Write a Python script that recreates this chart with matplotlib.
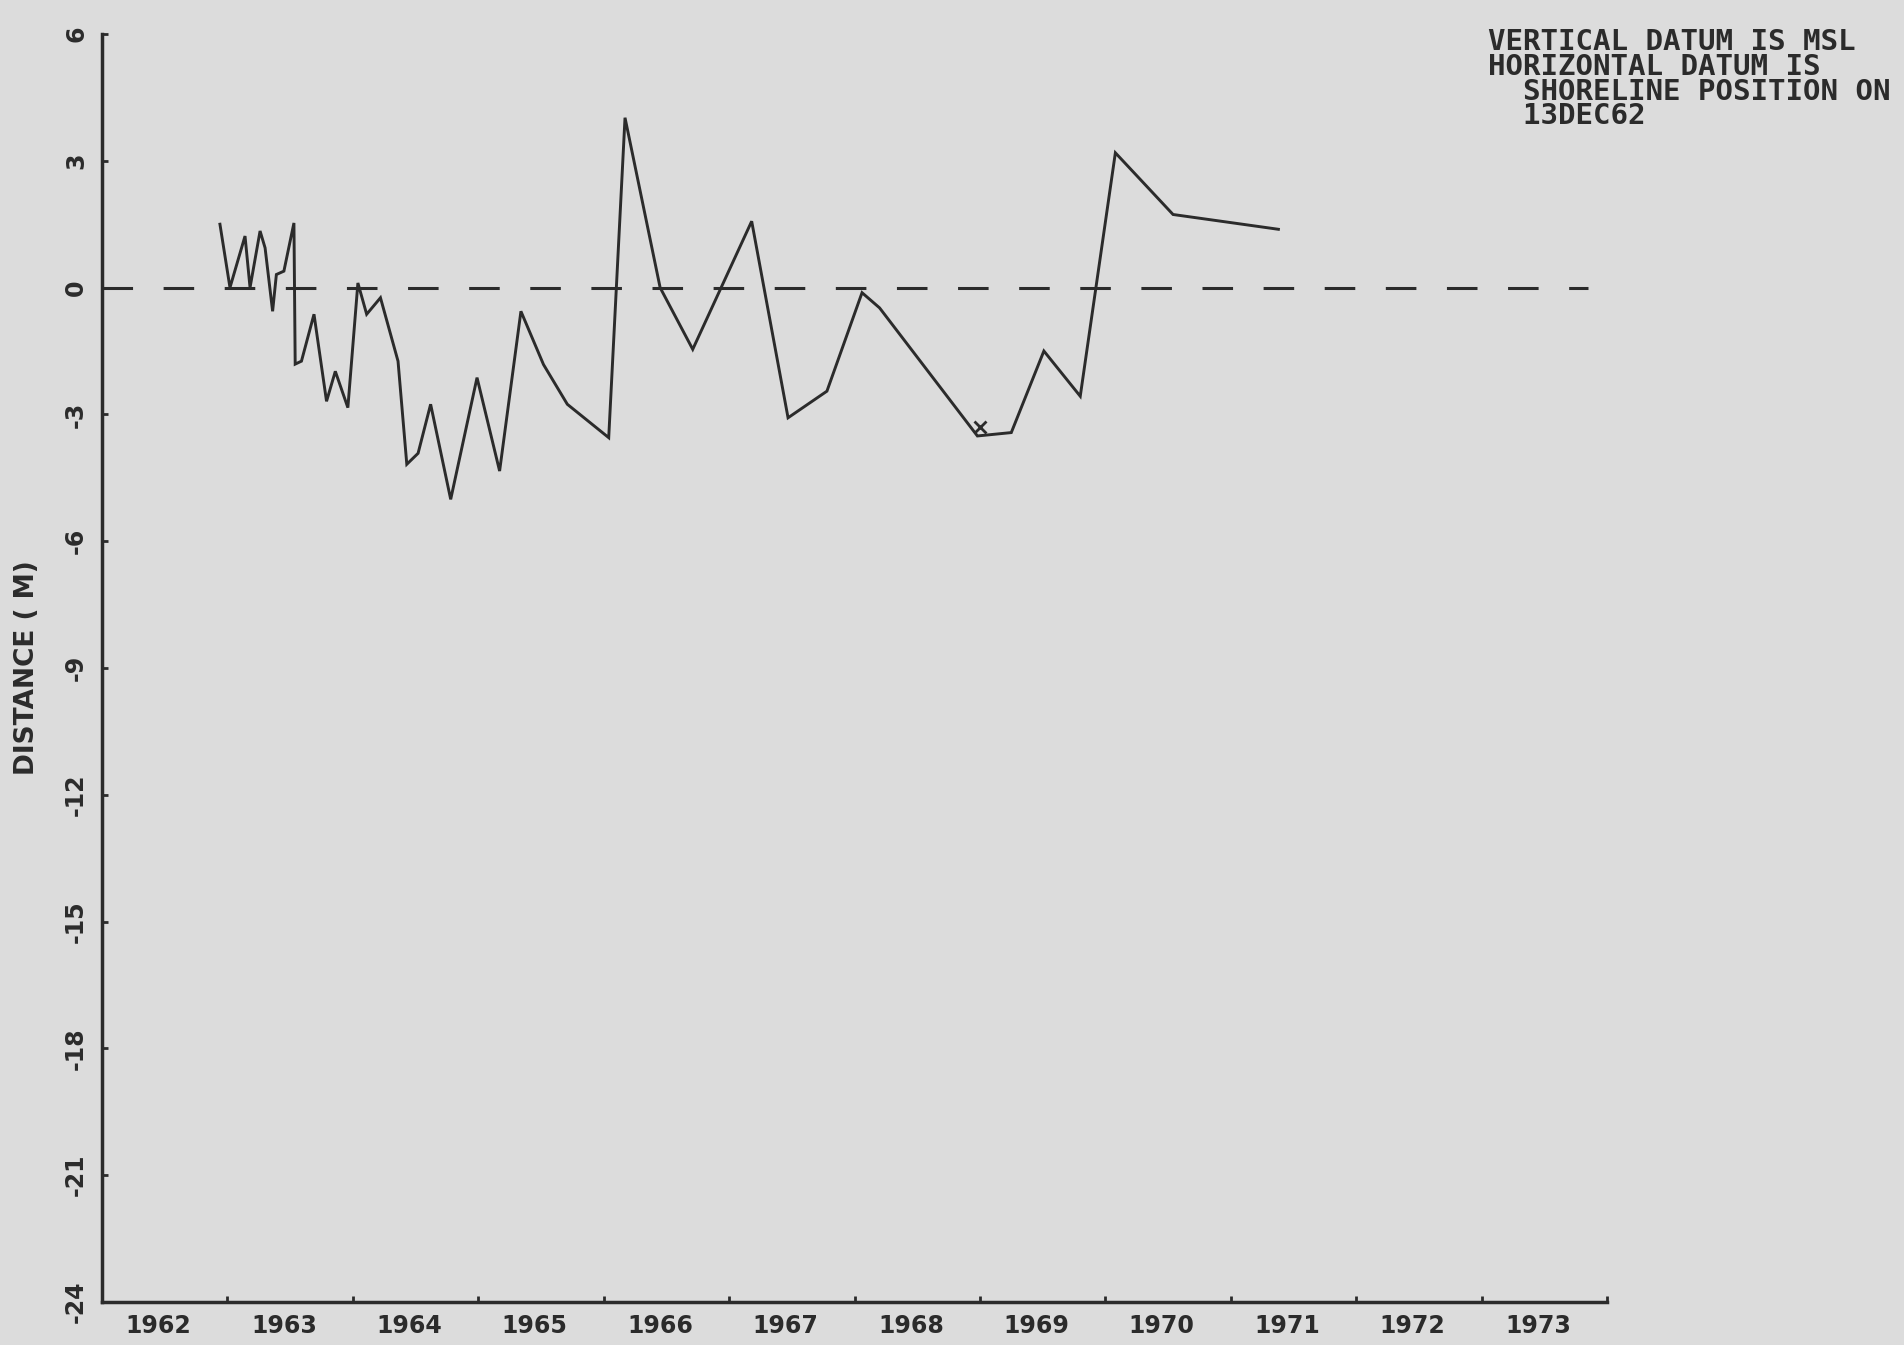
import numpy as np
import matplotlib.pyplot as plt

plt.rcParams['font.family'] = ['DejaVu Sans']
plt.rcParams['axes.unicode_minus'] = False

# shoreline position relative to 13 Dec 1962 (m)
dates = [1962.94, 1963.02, 1963.14, 1963.18, 1963.26, 1963.30, 1963.36, 1963.39,
         1963.45, 1963.53, 1963.54, 1963.59, 1963.69, 1963.79, 1963.86, 1963.96,
         1964.04, 1964.11, 1964.22, 1964.36, 1964.43, 1964.52, 1964.62, 1964.78,
         1964.99, 1965.17, 1965.34, 1965.52, 1965.71, 1966.04, 1966.17, 1966.45,
         1966.71, 1967.18, 1967.47, 1967.78, 1968.06, 1968.20, 1968.98, 1969.25,
         1969.51, 1969.80, 1970.08, 1970.54, 1971.38]
distance = [1.50, 0.0, 1.22, 0.0, 1.34, 0.94, -0.56, 0.31,
            0.39, 1.53, -1.81, -1.74, -0.63, -2.69, -1.98, -2.84,
            0.11, -0.63, -0.24, -1.74, -4.18, -3.92, -2.76, -5.01,
            -2.13, -4.34, -0.56, -1.82, -2.76, -3.55, 4.02, 0.0,
            -1.46, 1.57, -3.08, -2.45, -0.12, -0.48, -3.51, -3.43,
            -1.50, -2.57, 3.19, 1.73, 1.38]

mark_x = [1969.0]
mark_y = [-3.3]

datum_x = [1962.0, 1973.85]
datum_y = [0.0, 0.0]

years = np.arange(1962, 1975)
year_labels = [str(y) for y in range(1962, 1974)]
yticks = np.arange(6, -25, -3)
ytick_labels = [str(v) for v in yticks]

bg = '#dcdcdc'
ink = '#2b2b2b'

fig = plt.figure(figsize=(19.04, 13.45), dpi=100, facecolor=bg)
ax = fig.add_axes([0.0536, 0.032, 0.7904, 0.9427], facecolor=bg)

ax.plot(datum_x, datum_y, color=ink, lw=2.2, dashes=(10, 10))
ax.plot(dates, distance, color=ink, lw=2.1, solid_joinstyle='miter')
ax.plot(mark_x, mark_y, ls='none', marker='x', ms=9, mew=2, color=ink)

ax.set_xlim(1962, 1974)
ax.set_ylim(-24, 6)

for s in ['top', 'right']:
    ax.spines[s].set_visible(False)
for s in ['left', 'bottom']:
    ax.spines[s].set_linewidth(2.5)
    ax.spines[s].set_color(ink)

ax.set_xticks(years)
ax.set_xticklabels([])
ax.set_xticks(np.arange(1962, 1974) + 0.45, year_labels, minor=True)
ax.tick_params(axis='x', which='major', direction='in', length=4, width=2, color=ink)
ax.tick_params(axis='x', which='minor', length=0, pad=9, labelsize=17, labelcolor=ink)

ax.set_yticks(yticks, ytick_labels)
ax.tick_params(axis='y', direction='in', length=4, width=2, color=ink, pad=10,
               labelsize=17, labelcolor=ink)
for lab in ax.get_yticklabels():
    lab.set_rotation(90)
    lab.set_va('center')
for lab in ax.get_xticklabels(minor=True) + ax.get_yticklabels():
    lab.set_fontweight('bold')

ax.set_ylabel('DISTANCE ( M)', fontsize=19, fontweight='bold', color=ink)
ax.yaxis.set_label_coords(-0.041, 0.5)

fig.text(0.7815, 0.979,
         'VERTICAL DATUM IS MSL\nHORIZONTAL DATUM IS\n  SHORELINE POSITION ON\n  13DEC62',
         ha='left', va='top', fontsize=21, fontweight='bold', color=ink,
         family='DejaVu Sans Mono', linespacing=0.85)

fig.savefig('out.png', dpi=100, facecolor=bg)
